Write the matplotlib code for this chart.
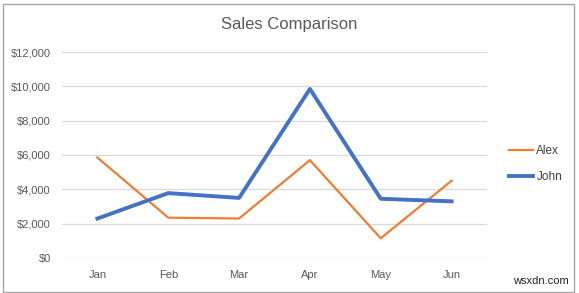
import matplotlib
matplotlib.use('Agg')
import matplotlib.pyplot as plt
from matplotlib.patches import Rectangle
from matplotlib.ticker import FuncFormatter

# =============================================================================
# DATOS
# =============================================================================
MESES = ['Jan', 'Feb', 'Mar', 'Apr', 'May', 'Jun']
ALEX  = [5850, 2350, 2300, 5700, 1150, 4500]
JOHN  = [2300, 3780, 3500, 9850, 3450, 3300]

GRIS    = '#595959'
NARANJA = '#ED7D31'
AZUL    = '#4472C4'

plt.rcParams['font.family'] = ['Liberation Sans', 'DejaVu Sans']

fig = plt.figure(figsize=(5.79, 2.93), dpi=100)
ax = fig.add_axes([62 / 579, 35 / 293, 425 / 579, 206 / 293])

x = list(range(len(MESES)))
ax.plot(x, ALEX, color=NARANJA, lw=1.6, label='Alex', solid_joinstyle='round')
ax.plot(x, JOHN, color=AZUL, lw=2.8, label='John', solid_joinstyle='round')

ax.set_xlim(-0.5, len(MESES) - 0.5)
ax.set_ylim(0, 12000)
ax.set_yticks(range(0, 12001, 2000))
ax.yaxis.set_major_formatter(FuncFormatter(lambda v, p: f'${v:,.0f}'))
ax.set_xticks(x)
ax.set_xticklabels(MESES)
ax.tick_params(axis='both', length=0, colors=GRIS, labelsize=8)
ax.tick_params(axis='x', pad=9)
ax.tick_params(axis='y', pad=8)
ax.grid(axis='y', color='#D9D9D9', lw=0.9)
ax.set_axisbelow(True)
for s in ax.spines.values():
    s.set_visible(False)

fig.text(0.5, 1 - 25 / 293, 'Sales Comparison', ha='center', va='center',
         fontsize=12, color=GRIS)

fig.legend(loc='center left', bbox_to_anchor=(498 / 579, 1 - 164 / 293),
           frameon=False, fontsize=8.5, handlelength=2.1, handletextpad=0.25,
           labelspacing=1.15, labelcolor='#404040')

fig.patches.append(Rectangle((3 / 579, 1 / 293), 571 / 579, 288 / 293,
                             transform=fig.transFigure, fill=False,
                             edgecolor='#A6A6A6', lw=1))

fig.text(569 / 579, 1 - 281 / 293, 'wsxdn.com', ha='right', va='center',
         fontsize=8, color='#222222')

plt.savefig('out.png', dpi=100)
plt.close()
